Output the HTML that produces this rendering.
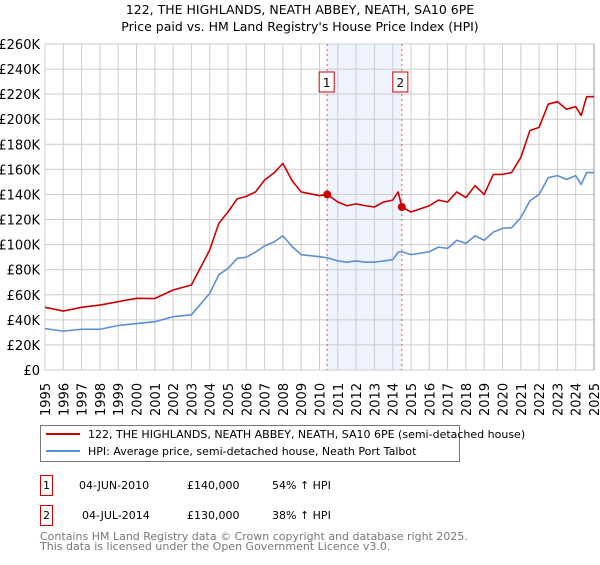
<!DOCTYPE html>
<html><head><meta charset="utf-8"><style>
body{margin:0;background:#fff;font-family:"Liberation Sans","DejaVu Sans",sans-serif;}
</style></head><body>
<svg width="600" height="560" xmlns="http://www.w3.org/2000/svg" font-family="DejaVu Sans, Liberation Sans, sans-serif">
<text x="300" y="14" text-anchor="middle" font-size="12.5" fill="#000">122, THE HIGHLANDS, NEATH ABBEY, NEATH, SA10 6PE</text>
<text x="300" y="31" text-anchor="middle" font-size="12.5" fill="#000">Price paid vs. HM Land Registry's House Price Index (HPI)</text>
<g id="plot"></g>
<g id="legend">
<rect x="40.5" y="425.5" width="419" height="36" fill="#fff" stroke="#777"/>
<line x1="46" y1="434" x2="80" y2="434" stroke="#cc0000" stroke-width="2"/>
<text x="88" y="438" font-size="11">122, THE HIGHLANDS, NEATH ABBEY, NEATH, SA10 6PE (semi-detached house)</text>
<line x1="46" y1="451" x2="80" y2="451" stroke="#5b8fd4" stroke-width="2"/>
<text x="88" y="455" font-size="11">HPI: Average price, semi-detached house, Neath Port Talbot</text>
</g>
<g font-size="11">
<rect x="40.5" y="475.5" width="12" height="20" fill="#fff" stroke="#cc0000"/>
<text x="46.5" y="489" text-anchor="middle">1</text>
<text x="79" y="489">04-JUN-2010</text>
<text x="187" y="489">£140,000</text>
<text x="272" y="489">54% ↑ HPI</text>
<rect x="40.5" y="505.5" width="12" height="20" fill="#fff" stroke="#cc0000"/>
<text x="46.5" y="519" text-anchor="middle">2</text>
<text x="82" y="519">04-JUL-2014</text>
<text x="187" y="519">£130,000</text>
<text x="272" y="519">38% ↑ HPI</text>
</g>
<text x="40" y="540" font-size="11" fill="#777">Contains HM Land Registry data © Crown copyright and database right 2025.</text>
<text x="40" y="550" font-size="11" fill="#777">This data is licensed under the Open Government Licence v3.0.</text>
</svg>
<script>
const years=[1995,1996,1997,1998,1999,2000,2001,2002,2003,2004,2004.5,2005,2005.5,2006,2006.5,2007,2007.5,2008,2008.5,2009,2010,2010.42,2011,2011.5,2012,2012.5,2013,2013.5,2014,2014.3,2014.5,2015,2016,2016.5,2017,2017.5,2018,2018.5,2019,2019.5,2020,2020.5,2021,2021.5,2022,2022.5,2023,2023.5,2024,2024.3,2024.6,2025];
const hpiValues=[33,31,32.5,32.5,35.5,37,38.5,42.5,44,61,76,81,89,90,94,99,102,107,98.5,92,90.4,89.5,87,86,87,86,86,87,88,94,94.3,92,94.3,98,97,103.5,101,107,103.5,110,113,113.5,121.5,135,140,153.4,155,152,155,148,157.5,157.5];
const priceValues=[50,47,50,51.8,54.5,57.2,57,63.8,67.8,95.7,117,126,136.5,138.5,142,151.5,157,164.8,151,142,139,140,134,131,132.5,131,130,134,135.5,142,130,126,131,135.5,134,142,137.5,147,140,156,156,157.5,169.5,191,193.5,212,214,208,210,203,218,218];
const yTicks=[0,20,40,60,80,100,120,140,160,180,200,220,240,260];
const xTicks=[1995,1996,1997,1998,1999,2000,2001,2002,2003,2004,2005,2006,2007,2008,2009,2010,2011,2012,2013,2014,2015,2016,2017,2018,2019,2020,2021,2022,2023,2024,2025];
const saleDates=[2010.42,2014.5];
const salePrices=[140,130];
const NS='http://www.w3.org/2000/svg';
const X0=45,X1=594,Y0=370,Y1=44;
const xs=y=>X0+(y-1995)/(2025-1995)*(X1-X0);
const ys=v=>Y0-v/260*(Y0-Y1);
const g=document.getElementById('plot');
function mk(t,a){const e=document.createElementNS(NS,t);for(const k in a)e.setAttribute(k,a[k]);g.appendChild(e);return e;}
const sh=mk('rect',{x:xs(saleDates[0]),y:Y1,width:xs(saleDates[1])-xs(saleDates[0]),height:Y0-Y1,fill:'#eef3fd'});


yTicks.forEach(t=>{
 const l=mk('line',{x1:X0,x2:X1,y1:ys(t),y2:ys(t),stroke:'#cccccc','stroke-width':1});
 
 
 const tx=mk('text',{x:40,y:ys(t)+5,'text-anchor':'end','font-size':13});
 tx.textContent=t===0?'£0':'£'+t+'K';
 
 
});
xTicks.forEach(t=>{
 const l=mk('line',{x1:xs(t),x2:xs(t),y1:Y1,y2:Y0,stroke:'#cccccc','stroke-width':1});
 
 
 const tx=mk('text',{x:0,y:0,'font-size':13,transform:`translate(${xs(t)+5},${Y0+46}) rotate(-90)`});
 tx.textContent=t;
 
 
});
const ed=mk('line',{x1:X1,x2:X1,y1:Y1,y2:Y0,stroke:'#999','stroke-width':1});


saleDates.forEach((d,i)=>{
 const l=mk('line',{x1:xs(d),x2:xs(d),y1:Y1,y2:Y0,stroke:'#ee5555','stroke-width':1,'stroke-dasharray':'2,3'});
 
 
 const b=mk('rect',{x:xs(d)-(i?9:8),y:72,width:15,height:20,fill:'#fff',stroke:'#cc0000'});
 
 
 const t=mk('text',{x:+b.getAttribute('x')+7.5,y:87,'text-anchor':'middle','font-size':12});
 t.textContent=i+1;
 
 
});
function line(vals,col,name){
 const p=mk('polyline',{points:years.map((y,i)=>xs(y)+','+ys(vals[i])).join(' '),fill:'none',stroke:col,'stroke-width':1.6,'stroke-linejoin':'round'});
 
 
}
line(hpiValues,'#5b8fd4','hpi-line');
line(priceValues,'#cc0000','price-line');
saleDates.forEach((d,i)=>{
 const c=mk('circle',{cx:xs(d),cy:ys(salePrices[i]),r:4,fill:'#cc0000'});
 
 
});
</script>
</body></html>
